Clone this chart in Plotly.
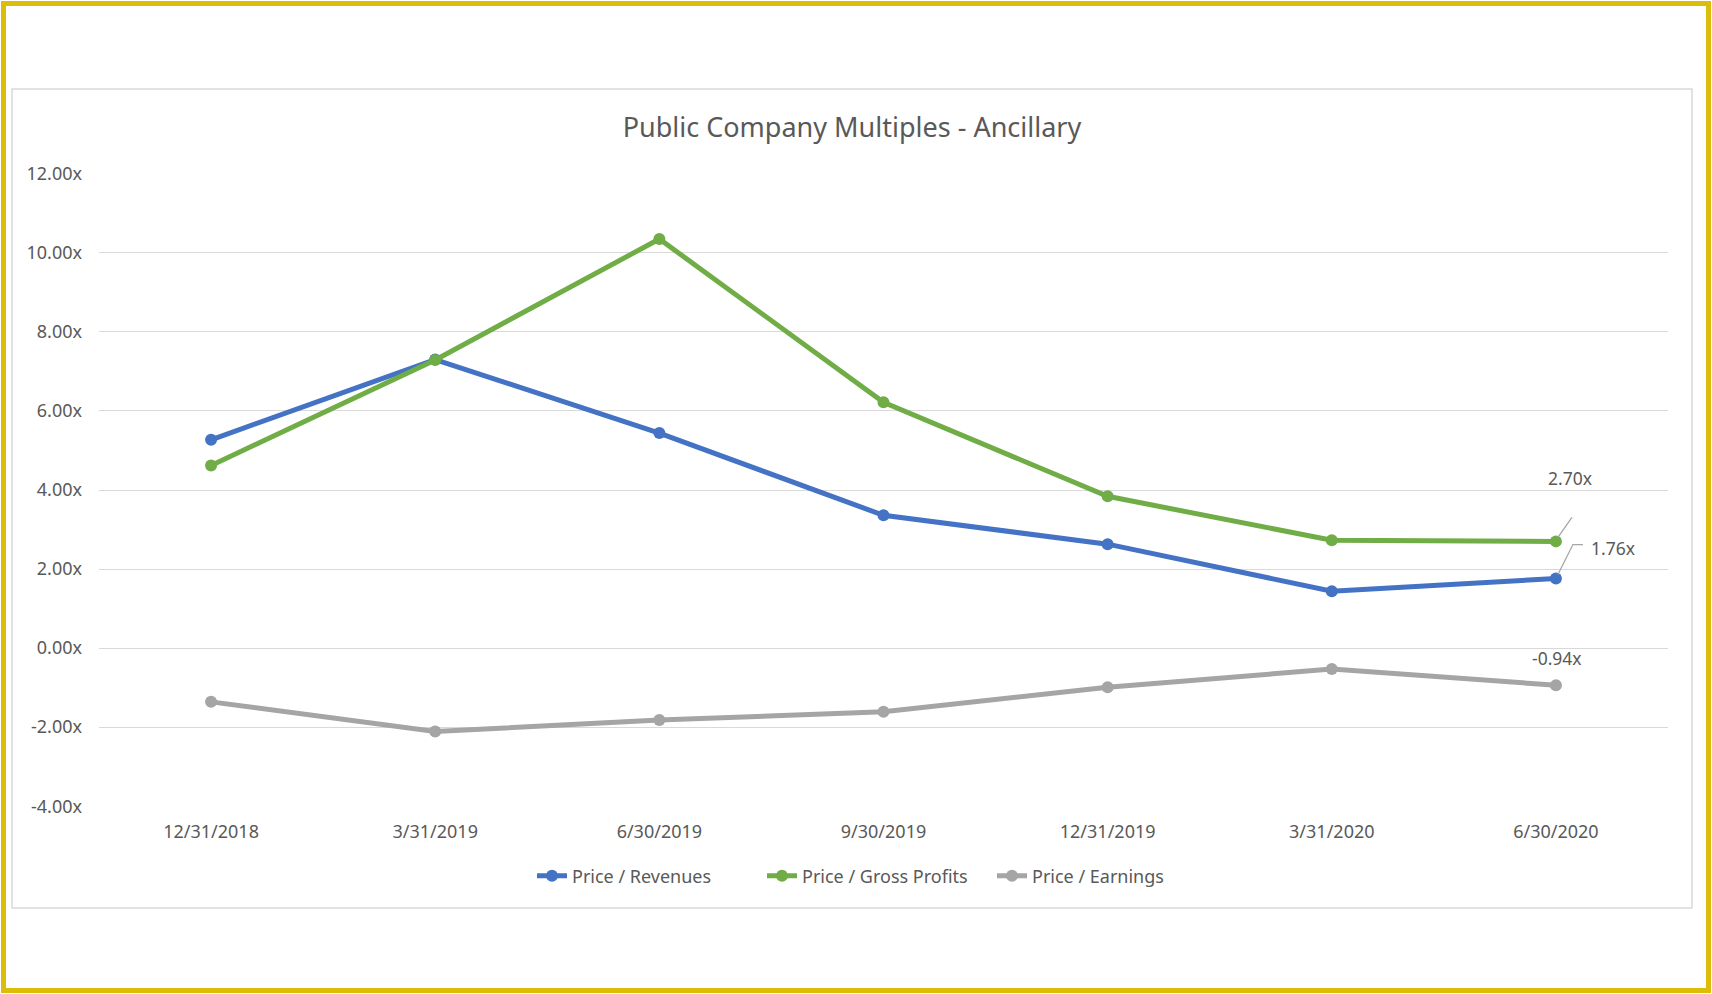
import plotly.graph_objects as go

categories = ["12/31/2018", "3/31/2019", "6/30/2019", "9/30/2019", "12/31/2019", "3/31/2020", "6/30/2020"]
price_revenues = [5.27, 7.30, 5.44, 3.36, 2.63, 1.44, 1.76]
price_gross_profits = [4.62, 7.29, 10.35, 6.22, 3.84, 2.73, 2.70]
price_earnings = [-1.36, -2.11, -1.82, -1.61, -0.99, -0.53, -0.94]
y_ticks = [-4, -2, 0, 2, 4, 6, 8, 10, 12]
y_tick_labels = [f"{v:.2f}x" for v in y_ticks]

W, H = 1712, 994
L, R, T, B = 99, 1668, 173, 807
FONT = "Noto Sans"
TXT = "#595959"

def px(xp):
    return (xp - L) / (R - L)

def py(yp):
    return (B - yp) / (B - T)

fig = go.Figure()
series = [
    ("Price / Revenues", price_revenues, "#4472C4"),
    ("Price / Gross Profits", price_gross_profits, "#70AD47"),
    ("Price / Earnings", price_earnings, "#A5A5A5"),
]
for name, vals, col in series:
    fig.add_trace(go.Scatter(
        x=categories, y=vals, name=name, mode="lines+markers",
        line=dict(color=col, width=5),
        marker=dict(color=col, size=12),
        hoverinfo="skip",
    ))

last = categories[-1]
annotations = [
    dict(x=last, y=price_gross_profits[-1], text=f"{price_gross_profits[-1]:.2f}x", xshift=14, yshift=63),
    dict(x=last, y=price_revenues[-1], text=f"{price_revenues[-1]:.2f}x", xshift=57, yshift=31),
    dict(x=last, y=price_earnings[-1], text=f"{price_earnings[-1]:.2f}x", xshift=1, yshift=27),
]
for a in annotations:
    a.update(xref="x", yref="y", showarrow=False, font=dict(family=FONT, size=17.5, color=TXT))

shapes = [
    # outer yellow frame
    dict(type="rect", xref="paper", yref="paper", x0=px(3.5), x1=px(1708.5), y0=py(3.5), y1=py(990.5),
         line=dict(color="#DCBD0A", width=5), layer="below"),
    # chart area border
    dict(type="rect", xref="paper", yref="paper", x0=px(12), x1=px(1692), y0=py(89), y1=py(908),
         line=dict(color="#D9D9D9", width=1.5), layer="below"),
    # leader lines
    dict(type="path", xref="x", yref="y", xsizemode="pixel", ysizemode="pixel",
         xanchor=6, yanchor=price_gross_profits[-1], path="M 16 24 L 2 4",
         line=dict(color="#A6A6A6", width=1.3)),
    dict(type="path", xref="x", yref="y", xsizemode="pixel", ysizemode="pixel",
         xanchor=6, yanchor=price_revenues[-1], path="M 27 34 L 17 34 L 2 4",
         line=dict(color="#A6A6A6", width=1.3)),
]

fig.update_layout(
    width=W, height=H, autosize=False,
    margin=dict(l=L, r=W - R, t=T, b=H - B, pad=0),
    paper_bgcolor="white", plot_bgcolor="white",
    title=dict(text="Public Company Multiples - Ancillary", x=852 / W, y=1 - 128 / H,
               xanchor="center", yanchor="middle",
               font=dict(family=FONT, size=27, color=TXT)),
    font=dict(family=FONT, size=18, color=TXT),
    showlegend=True,
    legend=dict(orientation="h", x=px(877), xanchor="center", y=py(876), yanchor="middle",
                font=dict(family=FONT, size=18, color=TXT), itemwidth=30,
                entrywidth=185, bgcolor="rgba(0,0,0,0)"),
    annotations=annotations,
    shapes=shapes,
)
fig.update_xaxes(type="category", showgrid=False, zeroline=False, showline=False, ticks="",
                 tickfont=dict(family=FONT, size=18, color=TXT), ticklabelstandoff=12,
                 range=[-0.5, 6.5], fixedrange=True)
fig.update_yaxes(range=[-4.02, 12.02], tickvals=y_ticks, ticktext=y_tick_labels,
                 showgrid=True, gridcolor="#D9D9D9", gridwidth=1.3,
                 zeroline=True, zerolinecolor="#D9D9D9", zerolinewidth=1.3,
                 showline=False, ticks="", tickfont=dict(family=FONT, size=18, color=TXT),
                 ticklabelstandoff=16, fixedrange=True)

fig.write_html("out.html", config={"displayModeBar": False},
               post_script="document.body.style.margin='0';document.body.style.overflow='hidden';")
